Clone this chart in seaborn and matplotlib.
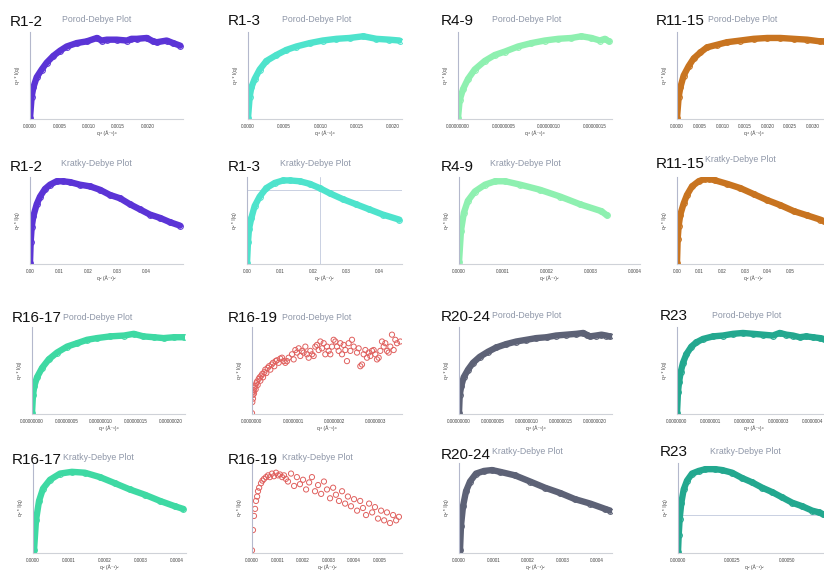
import numpy as np
import pandas as pd
import matplotlib
matplotlib.use("Agg")
import matplotlib.pyplot as plt
import seaborn as sns

sns.set_theme(style="white")
plt.rcParams['font.family'] = ['Liberation Sans', 'DejaVu Sans']

W, H = 824, 576

# ---- data (y = normalised q^n * I(q), x in q^n units) ----
# R1-2 Porod
r12_porod_x = np.array([0, 0.28, 0.57, 1.14, 1.99, 2.84, 3.98, 5.11, 6.25, 7.95, 9.66, 11.4, 12.2,
                        13.1, 14.8, 16.5, 17.3, 18.2, 19.9, 21.0, 21.6, 23.3, 24.4, 25.6]) * 1e-4
r12_porod_y = [0.01, 0.26, 0.37, 0.49, 0.58, 0.66, 0.74, 0.80, 0.85, 0.89, 0.91, 0.95, 0.92,
               0.93, 0.93, 0.92, 0.94, 0.94, 0.95, 0.91, 0.90, 0.92, 0.89, 0.86]
# R1-3 Porod
r13_porod_x = np.array([0, 0.23, 0.46, 0.92, 1.61, 2.53, 3.91, 5.29, 6.67, 8.51, 10.3, 12.2,
                        14.0, 15.9, 17.7, 19.5, 20.9]) * 1e-4
r13_porod_y = [0.01, 0.26, 0.37, 0.47, 0.58, 0.68, 0.75, 0.81, 0.85, 0.89, 0.92, 0.94,
               0.95, 0.97, 0.94, 0.93, 0.92]
# R4-9 Porod
r49_porod_x = np.array([0, 0.18, 0.55, 1.10, 1.83, 2.93, 4.03, 5.13, 6.59, 8.06, 9.52, 10.99,
                        12.45, 13.55, 14.65, 15.57, 16.12, 16.56]) * 1e-8
r49_porod_y = [0.01, 0.22, 0.35, 0.47, 0.58, 0.68, 0.75, 0.79, 0.85, 0.89, 0.92, 0.94,
               0.95, 0.97, 0.95, 0.92, 0.94, 0.91]
# R11-15 Porod
r1115_porod_x = np.array([0, 0.37, 0.74, 1.47, 2.57, 3.68, 5.15, 6.62, 8.82, 11.0, 14.0, 16.9,
                          19.9, 22.8, 25.7, 28.7, 31.6, 32.5, 33.5]) * 1e-4
r1115_porod_y = [0.01, 0.26, 0.37, 0.51, 0.62, 0.71, 0.78, 0.84, 0.87, 0.90, 0.92, 0.94,
                 0.95, 0.95, 0.94, 0.93, 0.91, 0.91, 0.90]
# R1-2 Kratky
r12_kratky_x = np.array([0, 0.23, 0.57, 1.14, 2.29, 3.43, 5.14, 6.86, 9.14, 11.4, 13.7, 17.1,
                         20.6, 24.0, 27.4, 30.9, 34.3, 37.7, 41.1, 44.6, 48.0, 51.4]) * 1e-3
r12_kratky_y = [0.01, 0.26, 0.43, 0.56, 0.70, 0.79, 0.88, 0.93, 0.97, 0.97, 0.96, 0.93,
                0.91, 0.87, 0.81, 0.77, 0.70, 0.64, 0.58, 0.54, 0.49, 0.45]
# R1-3 Kratky
r13_kratky_x = np.array([0, 0.30, 0.60, 1.31, 2.31, 3.82, 5.83, 8.34, 10.9, 12.9, 15.9, 18.9,
                         21.9, 24.9, 28.9, 32.9, 36.9, 40.9, 45.9]) * 1e-3
r13_kratky_y = [0.01, 0.26, 0.41, 0.54, 0.68, 0.79, 0.89, 0.95, 0.98, 0.98, 0.97, 0.94,
                0.89, 0.83, 0.76, 0.70, 0.64, 0.58, 0.52]
r13_cross = (0.0221, 0.87)
# R4-9 Kratky
r49_kratky_x = np.array([0, 0.045, 0.11, 0.20, 0.36, 0.59, 0.82, 1.05, 1.39, 1.84, 2.30, 2.75,
                         3.23, 3.36]) * 1e-4
r49_kratky_y = [0.02, 0.39, 0.60, 0.74, 0.85, 0.93, 0.97, 0.97, 0.93, 0.87, 0.79, 0.70, 0.62, 0.57]
# R11-15 Kratky
r1115_kratky_x = np.array([0, 0.29, 0.74, 1.47, 2.94, 4.41, 6.62, 9.56, 12.5, 13.97, 16.9, 22.1,
                           27.9, 33.8, 39.7, 45.6, 51.5, 57.4, 63.2, 65.0, 67.0]) * 1e-3
r1115_kratky_y = [0.01, 0.29, 0.45, 0.58, 0.71, 0.81, 0.91, 0.97, 1.0, 1.0, 0.98, 0.94,
                  0.89, 0.82, 0.75, 0.69, 0.62, 0.57, 0.52, 0.50, 0.49]
# R16-17 Porod
r1617_porod_x = np.array([0, 0.14, 0.34, 0.72, 1.45, 2.41, 3.61, 5.06, 6.51, 7.95, 9.40, 11.3,
                          13.3, 14.7, 16.1, 17.6, 19.0, 20.5, 21.9]) * 1e-8
r1617_porod_y = [0.01, 0.22, 0.33, 0.43, 0.54, 0.64, 0.72, 0.79, 0.83, 0.87, 0.89, 0.91,
                 0.92, 0.94, 0.91, 0.90, 0.89, 0.90, 0.90]
# R16-19 Porod (sparse, noisy)
r1619_porod_x = np.array([0, 0.08, 0.16, 0.24, 0.32, 0.41, 0.49, 0.65, 0.81, 0.89, 1.05, 1.22, 1.38,
                          1.62, 1.87, 2.03, 2.27, 2.51, 2.68, 3.00, 3.24, 3.49, 3.81, 4.14, 4.46,
                          4.79, 5.11, 5.43, 5.76, 6.08, 6.49, 6.89, 7.30, 7.70,
                          8.11, 8.52, 8.92, 9.73, 10.14, 10.54, 10.95, 11.35, 11.76, 12.17, 12.57,
                          12.98, 13.38, 13.79, 14.19, 14.60, 15.00, 15.41, 15.82, 16.22, 16.63,
                          17.03, 17.44, 17.84, 18.25, 18.65, 19.06, 19.46, 19.87, 20.28, 20.68,
                          21.09, 21.49, 21.90, 22.30, 22.71, 23.11, 23.52, 23.93, 24.33, 24.74,
                          25.55, 25.95, 26.36, 26.76, 27.17, 27.58, 27.98, 28.39, 28.79, 29.20,
                          29.60, 30.01, 30.41, 30.82, 31.22, 31.63, 32.04, 32.44, 32.85, 33.25,
                          33.66, 34.06, 34.47, 34.87, 35.28, 36.09]) * 1e-8
r1619_porod_y = [0.01, 0.14, 0.22, 0.18, 0.26, 0.28, 0.24, 0.31, 0.33, 0.29, 0.36, 0.38, 0.34,
                 0.41, 0.43, 0.39, 0.45, 0.47, 0.43, 0.49, 0.52, 0.48, 0.54, 0.56, 0.52,
                 0.58, 0.60, 0.56, 0.62, 0.63, 0.60, 0.65, 0.66, 0.62,
                 0.60, 0.62, 0.66, 0.70, 0.64, 0.75, 0.72, 0.77, 0.68, 0.74, 0.72,
                 0.79, 0.70, 0.66, 0.74, 0.70, 0.68, 0.79, 0.81, 0.75, 0.85,
                 0.77, 0.83, 0.70, 0.79, 0.74, 0.70, 0.79, 0.87, 0.85, 0.79,
                 0.74, 0.83, 0.70, 0.81, 0.75, 0.62, 0.83, 0.74, 0.87, 0.79,
                 0.72, 0.77, 0.56, 0.58, 0.70, 0.75, 0.66, 0.72, 0.68, 0.74,
                 0.75, 0.70, 0.64, 0.66, 0.74, 0.85, 0.79, 0.83, 0.74, 0.72,
                 0.79, 0.93, 0.75, 0.87, 0.83, 0.85]
# R20-24 Porod
r2024_porod_x = np.array([0, 0.10, 0.34, 0.69, 1.33, 2.06, 3.05, 4.27, 5.50, 6.98, 8.45, 9.93,
                          11.4, 12.9, 14.3, 15.8, 17.3, 18.3, 18.8, 19.3, 20.2, 21.0, 21.7, 22.2]) * 1e-8
r2024_porod_y = [0.01, 0.22, 0.33, 0.43, 0.52, 0.60, 0.67, 0.73, 0.78, 0.82, 0.85, 0.87,
                 0.89, 0.90, 0.92, 0.93, 0.94, 0.95, 0.93, 0.91, 0.92, 0.93, 0.92, 0.91]
# R23 Porod
r23_porod_x = np.array([0, 0.29, 0.59, 1.08, 1.76, 2.75, 4.22, 5.69, 7.65, 10.6, 13.5, 16.5,
                        19.4, 22.4, 25.3, 28.2, 30.2, 32.2, 34.1, 36.1, 38.0, 40.0, 42.0, 43.1, 45.0]) * 1e-8
r23_porod_y = [0.01, 0.26, 0.37, 0.49, 0.60, 0.70, 0.79, 0.84, 0.88, 0.91, 0.92, 0.94,
               0.95, 0.94, 0.93, 0.92, 0.95, 0.93, 0.92, 0.90, 0.91, 0.90, 0.89, 0.88, 0.88]
# R16-17 Kratky
r1617_kratky_x = np.array([0, 0.28, 0.83, 1.67, 2.78, 4.72, 7.5, 10.8, 14.4, 18.6, 22.8, 26.9,
                           31.1, 35.3, 39.4, 41.7]) * 1e-5
r1617_kratky_y = [0.01, 0.03, 0.37, 0.59, 0.73, 0.83, 0.90, 0.92, 0.91, 0.86, 0.79, 0.72,
                  0.66, 0.59, 0.53, 0.50]
# R16-19 Kratky (sparse, noisy)
r1619_kratky_x = np.array([0, 0.39, 0.78, 1.2, 1.57, 2.0, 2.35, 2.8, 3.53, 4.1, 4.71, 5.5, 6.27,
                           7.0, 7.84, 8.6, 9.41, 10.2, 10.98, 11.8, 12.55, 13.3,
                           14.1, 15.3, 16.5, 17.6, 18.8, 20.0, 21.2, 22.4, 23.5, 24.7, 25.9, 27.1,
                           28.2, 29.4, 30.6, 31.8, 32.9, 34.1, 35.3, 36.5, 37.6, 38.8, 40.0, 41.2,
                           42.4, 43.5, 44.7, 45.9, 47.1, 48.2, 49.4, 50.6, 51.8, 52.9, 54.1, 55.3,
                           56.5, 57.6]) * 1e-5
r1619_kratky_y = [0.03, 0.26, 0.42, 0.50, 0.59, 0.64, 0.70, 0.74, 0.79, 0.82, 0.84, 0.86, 0.88,
                  0.86, 0.90, 0.87, 0.91, 0.88, 0.89, 0.86, 0.88, 0.84,
                  0.81, 0.90, 0.76, 0.86, 0.78, 0.83, 0.72, 0.80, 0.86, 0.70, 0.77, 0.67,
                  0.81, 0.72, 0.62, 0.74, 0.66, 0.59, 0.70, 0.56, 0.64, 0.53, 0.61, 0.48,
                  0.59, 0.51, 0.43, 0.56, 0.46, 0.52, 0.39, 0.48, 0.37, 0.46, 0.34, 0.43,
                  0.37, 0.41]
# R20-24 Kratky
r2024_kratky_x = np.array([0, 0.29, 0.58, 1.16, 2.03, 3.19, 4.93, 7.25, 9.57, 11.9, 16.2, 20.6,
                           24.9, 29.3, 33.6, 38.0, 42.3, 43.8]) * 1e-5
r2024_kratky_y = [0.01, 0.03, 0.31, 0.53, 0.70, 0.81, 0.90, 0.93, 0.94, 0.92, 0.88, 0.81,
                  0.74, 0.68, 0.61, 0.56, 0.50, 0.48]
# R23 Kratky
r23_kratky_x = np.array([0, 0.31, 0.77, 1.54, 2.62, 4.15, 6.46, 9.54, 12.6, 17.2, 20.3, 24.9,
                         29.5, 34.2, 38.8, 43.4, 48.0, 52.6, 57.2, 61.8, 64.9, 66.8, 69.0]) * 1e-5
r23_kratky_y = [0.01, 0.20, 0.39, 0.57, 0.72, 0.82, 0.90, 0.93, 0.95, 0.95, 0.94, 0.91,
                0.85, 0.80, 0.74, 0.69, 0.63, 0.57, 0.53, 0.48, 0.46, 0.44, 0.42]
r23_hline = 0.43

# x tick values shown on each panel
ticks_p4_20 = [0, 0.0005, 0.0010, 0.0015, 0.0020]
ticks_p4_30 = [0, 0.0005, 0.0010, 0.0015, 0.0020, 0.0025, 0.0030]
ticks_p8_15 = [0, 5e-8, 10e-8, 15e-8]
ticks_p8_20 = [0, 5e-8, 10e-8, 15e-8, 20e-8]
ticks_p7 = [0, 1e-7, 2e-7, 3e-7, 4e-7]
ticks_k2_04 = [0, 0.01, 0.02, 0.03, 0.04]
ticks_k2_05 = [0, 0.01, 0.02, 0.03, 0.04, 0.05]
ticks_k4 = [0, 0.0001, 0.0002, 0.0003, 0.0004, 0.0005]
ticks_k5 = [0, 0.00025, 0.00050]

colors = {
    'R1-2': '#5B34D6', 'R1-3': '#4EE3CC', 'R4-9': '#8EF0B0', 'R11-15': '#C87420',
    'R16-17': '#3ED9A3', 'R16-19': '#E0605E', 'R20-24': '#5D6276', 'R23': '#23A88F',
}

PORO = 'Porod-Debye Plot'
KRAT = 'Kratky-Debye Plot'

# name, kind, x, y, ticks, fmt, box(l, t, r, b px), xmax, title xy, subtitle xy, scatter
panels = [
    ('R1-2', PORO, r12_porod_x, r12_porod_y, ticks_p4_20, '{:.4f}', (30, 32, 183, 119), 0.002608, (10, 26), (62, 19.5), False),
    ('R1-3', PORO, r13_porod_x, r13_porod_y, ticks_p4_20, '{:.4f}', (248, 32, 402, 119), 0.002124, (228, 25), (282, 19.5), False),
    ('R4-9', PORO, r49_porod_x, r49_porod_y, ticks_p8_15, '{:.8f}', (458, 32, 612, 119), 1.69e-7, (441, 25), (492, 19.5), False),
    ('R11-15', PORO, r1115_porod_x, r1115_porod_y, ticks_p4_30, '{:.4f}', (677, 32, 830, 119), 0.003375, (656, 25), (708, 20), False),
    ('R1-2', KRAT, r12_kratky_x, r12_kratky_y, ticks_k2_04, '{:.2f}', (30, 177, 183, 264), 0.05245, (10, 171), (61, 164), False),
    ('R1-3', KRAT, r13_kratky_x, r13_kratky_y, ticks_k2_04, '{:.2f}', (247, 177, 402, 264), 0.04673, (228, 171), (280, 164), False),
    ('R4-9', KRAT, r49_kratky_x, r49_kratky_y, ticks_k4, '{:.4f}', (459, 177, 640, 264), 4.11e-4, (441, 171), (490, 164), False),
    ('R11-15', KRAT, r1115_kratky_x, r1115_kratky_y, ticks_k2_05, '{:.2f}', (677, 177, 830, 264), 0.0675, (656, 168), (705, 160), False),
    ('R16-17', PORO, r1617_porod_x, r1617_porod_y, ticks_p8_20, '{:.8f}', (32, 327, 185, 414), 2.21e-7, (12, 322), (63, 318), False),
    ('R16-19', PORO, r1619_porod_x, r1619_porod_y, ticks_p7, '{:.7f}', (252, 327, 402, 414), 3.65e-7, (228, 322), (282, 318), True),
    ('R20-24', PORO, r2024_porod_x, r2024_porod_y, ticks_p8_20, '{:.8f}', (459, 327, 612, 414), 2.255e-7, (441, 321), (492, 316), False),
    ('R23', PORO, r23_porod_x, r23_porod_y, ticks_p7, '{:.7f}', (677, 327, 830, 414), 4.5e-7, (660, 320), (712, 315), False),
    ('R16-17', KRAT, r1617_kratky_x, r1617_kratky_y, ticks_k4, '{:.4f}', (33, 463, 186, 553), 4.25e-4, (12, 464), (63, 457), False),
    ('R16-19', KRAT, r1619_kratky_x, r1619_kratky_y, ticks_k4, '{:.4f}', (252, 463, 402, 553), 5.88e-4, (228, 464), (282, 457), True),
    ('R20-24', KRAT, r2024_kratky_x, r2024_kratky_y, ticks_k4, '{:.4f}', (459, 463, 612, 553), 4.43e-4, (441, 459), (492, 452), False),
    ('R23', KRAT, r23_kratky_x, r23_kratky_y, ticks_k5, '{:.5f}', (678, 463, 830, 553), 7.0e-4, (660, 456), (710, 452), False),
]

fig = plt.figure(figsize=(W / 100, H / 100), dpi=100)
fig.patch.set_facecolor('white')

for name, kind, x, y, ticks, fmt, box, xmax, tpos, spos, scatter in panels:
    l, t, r, b = box
    ax = fig.add_axes([l / W, 1 - b / H, (r - l) / W, (b - t) / H])
    df = pd.DataFrame({'x': x, 'y': y})
    c = colors[name]
    if scatter:
        sns.scatterplot(data=df, x='x', y='y', ax=ax, s=14, color=c,
                        facecolor='none', edgecolor=c, linewidth=0.7)
    else:
        sns.lineplot(data=df, x='x', y='y', ax=ax, sort=False, estimator=None,
                     color=c, lw=4.6, marker='o', ms=4.2, mfc='none',
                     markeredgecolor=c, markeredgewidth=0.7)
    # ticks first, then limits (so ticks outside the range are dropped)
    ax.set_xticks(ticks)
    ax.set_xticklabels([fmt.format(v) for v in ticks])
    ax.set_xlim(0, xmax)
    ax.set_yticks([0.1, 0.3, 0.5, 0.7, 0.9])
    ax.set_yticklabels([])
    ax.set_ylim(0, 1.02)
    ax.tick_params(axis='x', labelsize=3.3, length=1.2, width=0.4, pad=2.2,
                   color='#b8bcc6', labelcolor='#444444')
    ax.tick_params(axis='y', length=1.2, width=0.4, color='#b8bcc6')
    if kind == PORO:
        ax.set_xlabel('q⁴ (Å⁻¹)⁴', fontsize=3.6, labelpad=1.5, color='#444444')
        ax.set_ylabel('q⁴ * I(q)', fontsize=3.6, labelpad=2.5, color='#444444')
    else:
        ax.set_xlabel('q² (Å⁻¹)²', fontsize=3.6, labelpad=1.5, color='#444444')
        ax.set_ylabel('q² * I(q)', fontsize=3.6, labelpad=2.5, color='#444444')
    for side in ['top', 'right']:
        ax.spines[side].set_visible(False)
    ax.spines['left'].set_color('#b4b8cc')
    ax.spines['bottom'].set_color('#cfd2d8')
    ax.spines['left'].set_linewidth(0.8)
    ax.spines['bottom'].set_linewidth(0.8)
    ax.set_facecolor('none')

    if name == 'R1-3' and kind == KRAT:
        ax.axvline(r13_cross[0], color='#c9d0e2', lw=0.7, zorder=0)
        ax.axhline(r13_cross[1], color='#c9d0e2', lw=0.7, zorder=0)
    if name == 'R23' and kind == KRAT:
        ax.axhline(r23_hline, color='#c9d0e2', lw=0.7, zorder=0)

    fig.text(tpos[0] / W, 1 - tpos[1] / H, name, fontsize=11, color='#111111',
             ha='left', va='baseline')
    fig.text(spos[0] / W, 1 - spos[1] / H, kind, fontsize=6.3, color='#8f97a8',
             ha='left', va='center')

fig.savefig('out.png', dpi=100, facecolor='white')
